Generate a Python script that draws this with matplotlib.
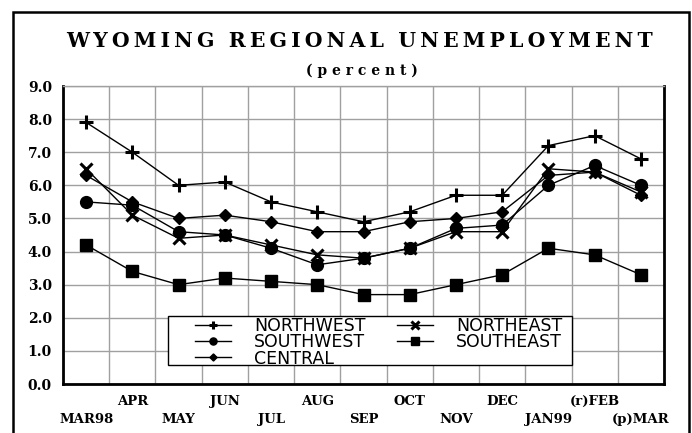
import numpy as np
import matplotlib
matplotlib.use("Agg")
from matplotlib import pyplot as plt
from matplotlib.patches import Rectangle

months = ["MAR98", "APR", "MAY", "JUN", "JUL", "AUG", "SEP",
          "OCT", "NOV", "DEC", "JAN99", "(r)FEB", "(p)MAR"]
northwest = [7.9, 7.0, 6.0, 6.1, 5.5, 5.2, 4.9, 5.2, 5.7, 5.7, 7.2, 7.5, 6.8]
southwest = [5.5, 5.4, 4.6, 4.5, 4.1, 3.6, 3.8, 4.1, 4.7, 4.8, 6.0, 6.6, 6.0]
central = [6.3, 5.5, 5.0, 5.1, 4.9, 4.6, 4.6, 4.9, 5.0, 5.2, 6.3, 6.4, 5.7]
northeast = [6.5, 5.1, 4.4, 4.5, 4.2, 3.9, 3.8, 4.1, 4.6, 4.6, 6.5, 6.4, 5.8]
southeast = [4.2, 3.4, 3.0, 3.2, 3.1, 3.0, 2.7, 2.7, 3.0, 3.3, 4.1, 3.9, 3.3]
yticks = [0, 1, 2, 3, 4, 5, 6, 7, 8, 9]

serif = "DejaVu Serif"
fig = plt.figure(figsize=(6.92, 4.33), dpi=100)
ax = fig.add_axes([63/692, 1-384/433, 601/692, 298/433])

x = np.arange(len(months))
ax.plot(x, northwest, color="black", lw=1, marker="+", ms=10, mew=2.2, label="NORTHWEST")
ax.plot(x, southwest, color="black", lw=1, marker="o", ms=8.5, label="SOUTHWEST")
ax.plot(x, central, color="black", lw=1, marker="D", ms=6, label="CENTRAL")
ax.plot(x, northeast, color="black", lw=1, marker="x", ms=8.5, mew=2.2, label="NORTHEAST")
ax.plot(x, southeast, color="black", lw=1, marker="s", ms=8.5, label="SOUTHEAST")

ax.set_xlim(-0.5, len(months) - 0.5)
ax.set_ylim(0, 9)
ax.set_yticks(yticks)
ax.set_yticklabels([f"{v:.1f}" for v in yticks], fontfamily=serif,
                   fontweight="bold", fontsize=10)
ax.set_xticks(x)
ax.set_xticklabels(months, fontfamily=serif, fontweight="bold", fontsize=9.5)
ax.set_xticks(np.arange(-0.5, len(months), 1), minor=True)
ax.tick_params(axis="both", which="both", length=0)
ax.tick_params(axis="y", pad=8)
for i, t in enumerate(ax.xaxis.get_major_ticks()):
    t.set_pad(21 if i % 2 == 0 else 8)
ax.grid(which="minor", axis="x", color="#a0a0a0", lw=1)
ax.grid(which="major", axis="y", color="#a0a0a0", lw=1)
ax.set_axisbelow(True)
for s in ["left", "bottom", "right"]:
    ax.spines[s].set_linewidth(2)
ax.spines["top"].set_color("#a0a0a0")
ax.spines["top"].set_linewidth(1)

# legend box drawn by hand so the entries can sit inside with a left margin
box = Rectangle(((168-63)/601, (384-365)/298), 404/601, 49/298, transform=ax.transAxes,
                facecolor="white", edgecolor="black", lw=1, zorder=4)
ax.add_patch(box)
leg = ax.legend(ncol=2, loc="upper left", bbox_to_anchor=((195-63)/601, (384-317)/298),
                frameon=False, prop={"family": "DejaVu Sans", "size": 12.5},
                markerscale=0.6, handlelength=2.1, labelspacing=-0.1,
                columnspacing=1.8, borderpad=0, handletextpad=1.3,
                borderaxespad=0)
leg.set_zorder(5)

fig.add_artist(Rectangle((13/692, -0.1), 676/692, 1.1 - 12/433, transform=fig.transFigure,
                         fill=False, edgecolor="black", lw=1.8))

title = "  ".join("\u2009".join(w) for w in "WYOMING REGIONAL UNEMPLOYMENT".split())
fig.text(359/692, 1-41/433, title, ha="center", va="center", fontfamily=serif,
         fontweight="bold", fontsize=14.7)
fig.text(362/692, 1-71/433, "( p e r c e n t )", ha="center", va="center",
         fontfamily=serif, fontweight="bold", fontsize=10)

fig.savefig("out.png", dpi=100)
